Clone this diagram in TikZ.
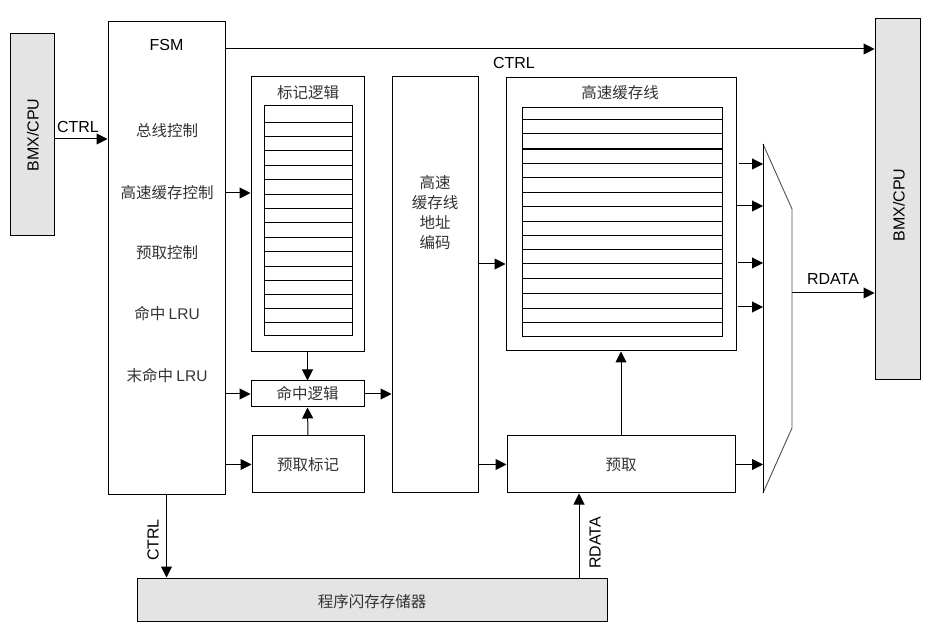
\documentclass[tikz,border=0pt]{standalone}
\usepackage{fontspec}
\setmainfont{Liberation Sans}
\newfontfamily\cjk{Noto Sans CJK SC}
\usetikzlibrary{arrows.meta,calc}
\definecolor{boxgray}{RGB}{228,228,228}
\definecolor{muxgray}{RGB}{80,80,80}
\begin{document}
\begin{tikzpicture}[x=1pt,y=-1pt,
  blk/.style={draw, line width=1pt, inner sep=0pt, fill=white},
  gblk/.style={blk, fill=boxgray},
  arr/.style={-{Triangle[length=11pt,width=11pt]}, line width=1pt},
  lbl/.style={inner sep=0pt, font=\fontsize{16}{19}\selectfont},
  zh/.style={inner sep=0pt, font=\fontsize{15.5}{18}\selectfont\cjk, text=black!80, align=center},
  gridln/.style={line width=1pt}]
\useasboundingbox (0,0) rectangle (930,628);

% main blocks
\node[gblk, minimum width=44pt, minimum height=202pt] (bmxL) at (32,135) {};
\node[lbl, rotate=90] (bmxLt) at (33,135) {BMX/CPU};
\node[gblk, minimum width=45pt, minimum height=361pt] (bmxR) at (897.5,199.5) {};
\node[lbl, rotate=90] (bmxRt) at (899,205) {BMX/CPU};
\node[blk, minimum width=117pt, minimum height=473pt] (fsm) at (166.5,258.5) {};
\node[lbl] (fsmt) at (166.5,45) {FSM};
\node[zh] (bus) at (167,131) {总线控制};
\node[zh] (cctl) at (167,193) {高速缓存控制};
\node[zh] (pctl) at (167,253) {预取控制};
\node[zh] (hlru) at (167,314) {命中 {\fontspec{Liberation Sans}LRU}};
\node[zh] (mlru) at (167,376) {末命中 {\fontspec{Liberation Sans}LRU}};

% tag logic
\node[blk, minimum width=113pt, minimum height=275pt] (tag) at (307.5,214.5) {};
\node[zh] (tagt) at (308,93) {标记逻辑};
\node[blk, minimum width=88pt, minimum height=230pt] (tgrid) at (308,221) {};
\foreach \yy in {122.3,136.3,151,165.3,180,194.3,208.3,223,237.3,251.3,266.3,280.3,294.3,309,323}
  \draw[gridln] (tgrid.west |- 0,\yy) -- (tgrid.east |- 0,\yy);

% address encoder
\node[blk, minimum width=86pt, minimum height=416pt] (addr) at (435,285) {};
\node[zh, font=\fontsize{15.5}{20}\selectfont\cjk] (addrt) at (435,213) {高速\\缓存线\\地址\\编码};

% hit logic and prefetch tag
\node[blk, minimum width=113pt, minimum height=26pt] (hit) at (307.5,394) {};
\node[zh] (hitt) at (307.5,394) {命中逻辑};
\node[blk, minimum width=112pt, minimum height=57pt] (ptag) at (308,464.5) {};
\node[zh] (ptagt) at (308,465) {预取标记};

% cache lines
\node[blk, minimum width=230pt, minimum height=273pt] (cache) at (621,214.5) {};
\node[zh] (cachet) at (620,93) {高速缓存线};
\node[blk, minimum width=200pt, minimum height=229pt] (cgrid) at (622,222) {};
\foreach \yy in {119.3,134,163.3,178,192.3,206.3,221.3,235.3,250,264,279,293.3,308.3,322.3}
  \draw[gridln] (cgrid.west |- 0,\yy) -- (cgrid.east |- 0,\yy);
\draw[line width=2pt] (cgrid.west |- 0,148.7) -- (cgrid.east |- 0,148.7);

% prefetch
\node[blk, minimum width=228pt, minimum height=57pt] (pref) at (621,464.5) {};
\node[zh] (preft) at (621,465) {预取};

% flash
\node[gblk, minimum width=470pt, minimum height=43pt] (flash) at (372,599.5) {};
\node[zh] (flasht) at (372,602) {程序闪存存储器};

% mux
\coordinate (mtl) at (763,144);
\coordinate (mbl) at (763,493);
\coordinate (mtr) at (792,209);
\coordinate (mbr) at (792,428);
\draw[muxgray, line width=0.9pt] (mtl) -- (mtr) -- (mbr) -- (mbl);
\draw[line width=1pt] (mtl) -- (mbl);
\coordinate (mi1) at (763,164);
\coordinate (mi2) at (763,206);
\coordinate (mi3) at (763,263);
\coordinate (mi4) at (763,307);
\coordinate (mi5) at (763,464.5);
\coordinate (mout) at (792,293);

% connectors
\coordinate (yc1) at (0,139);
\draw[arr] (bmxL.east |- yc1) -- (fsm.west |- yc1);
\node[lbl] (ctrl1) at (78,127) {CTRL};

\coordinate (yc2) at (0,49);
\draw[arr] (fsm.east |- yc2) -- (bmxR.west |- yc2);
\node[lbl] (ctrl2) at (514,63) {CTRL};

\draw[arr] (fsm.east |- cctl) -- (tag.west |- cctl);
\draw[arr] (tag.south) -- (hit.north);
\draw[arr] (ptag.north) -- (hit.south);
\draw[arr] (fsm.east |- hit) -- (hit.west);
\draw[arr] (fsm.east |- ptag) -- (ptag.west);
\draw[arr] (hit.east) -- (addr.west |- hit);

\coordinate (yc3) at (0,264);
\draw[arr] (addr.east |- yc3) -- (cache.west |- yc3);
\draw[arr] (addr.east |- pref) -- (pref.west);
\draw[arr] (pref.north) -- (cache.south);

\draw[arr] ($(cache.east |- mi1)+(2,0)$) -- (mi1);
\draw[arr] (cache.east |- mi2) -- (mi2);
\draw[arr] ($(cache.east |- mi3)+(1,0)$) -- (mi3);
\draw[arr] ($(cache.east |- mi4)+(1,0)$) -- (mi4);
\draw[arr] (pref.east |- mi5) -- (mi5);

\draw[arr] (mout) -- (bmxR.west |- mout);
\node[lbl] (rdata1) at (833,279) {RDATA};

\draw[arr] (fsm.south) -- (flash.north -| fsm.south);
\node[lbl, rotate=90] (ctrl3) at (153,540) {CTRL};

\coordinate (xr) at (579,0);
\draw[arr] (flash.north -| xr) -- (pref.south -| xr);
\node[lbl, rotate=90] (rdata2) at (595,543) {RDATA};
\end{tikzpicture}
\end{document}
